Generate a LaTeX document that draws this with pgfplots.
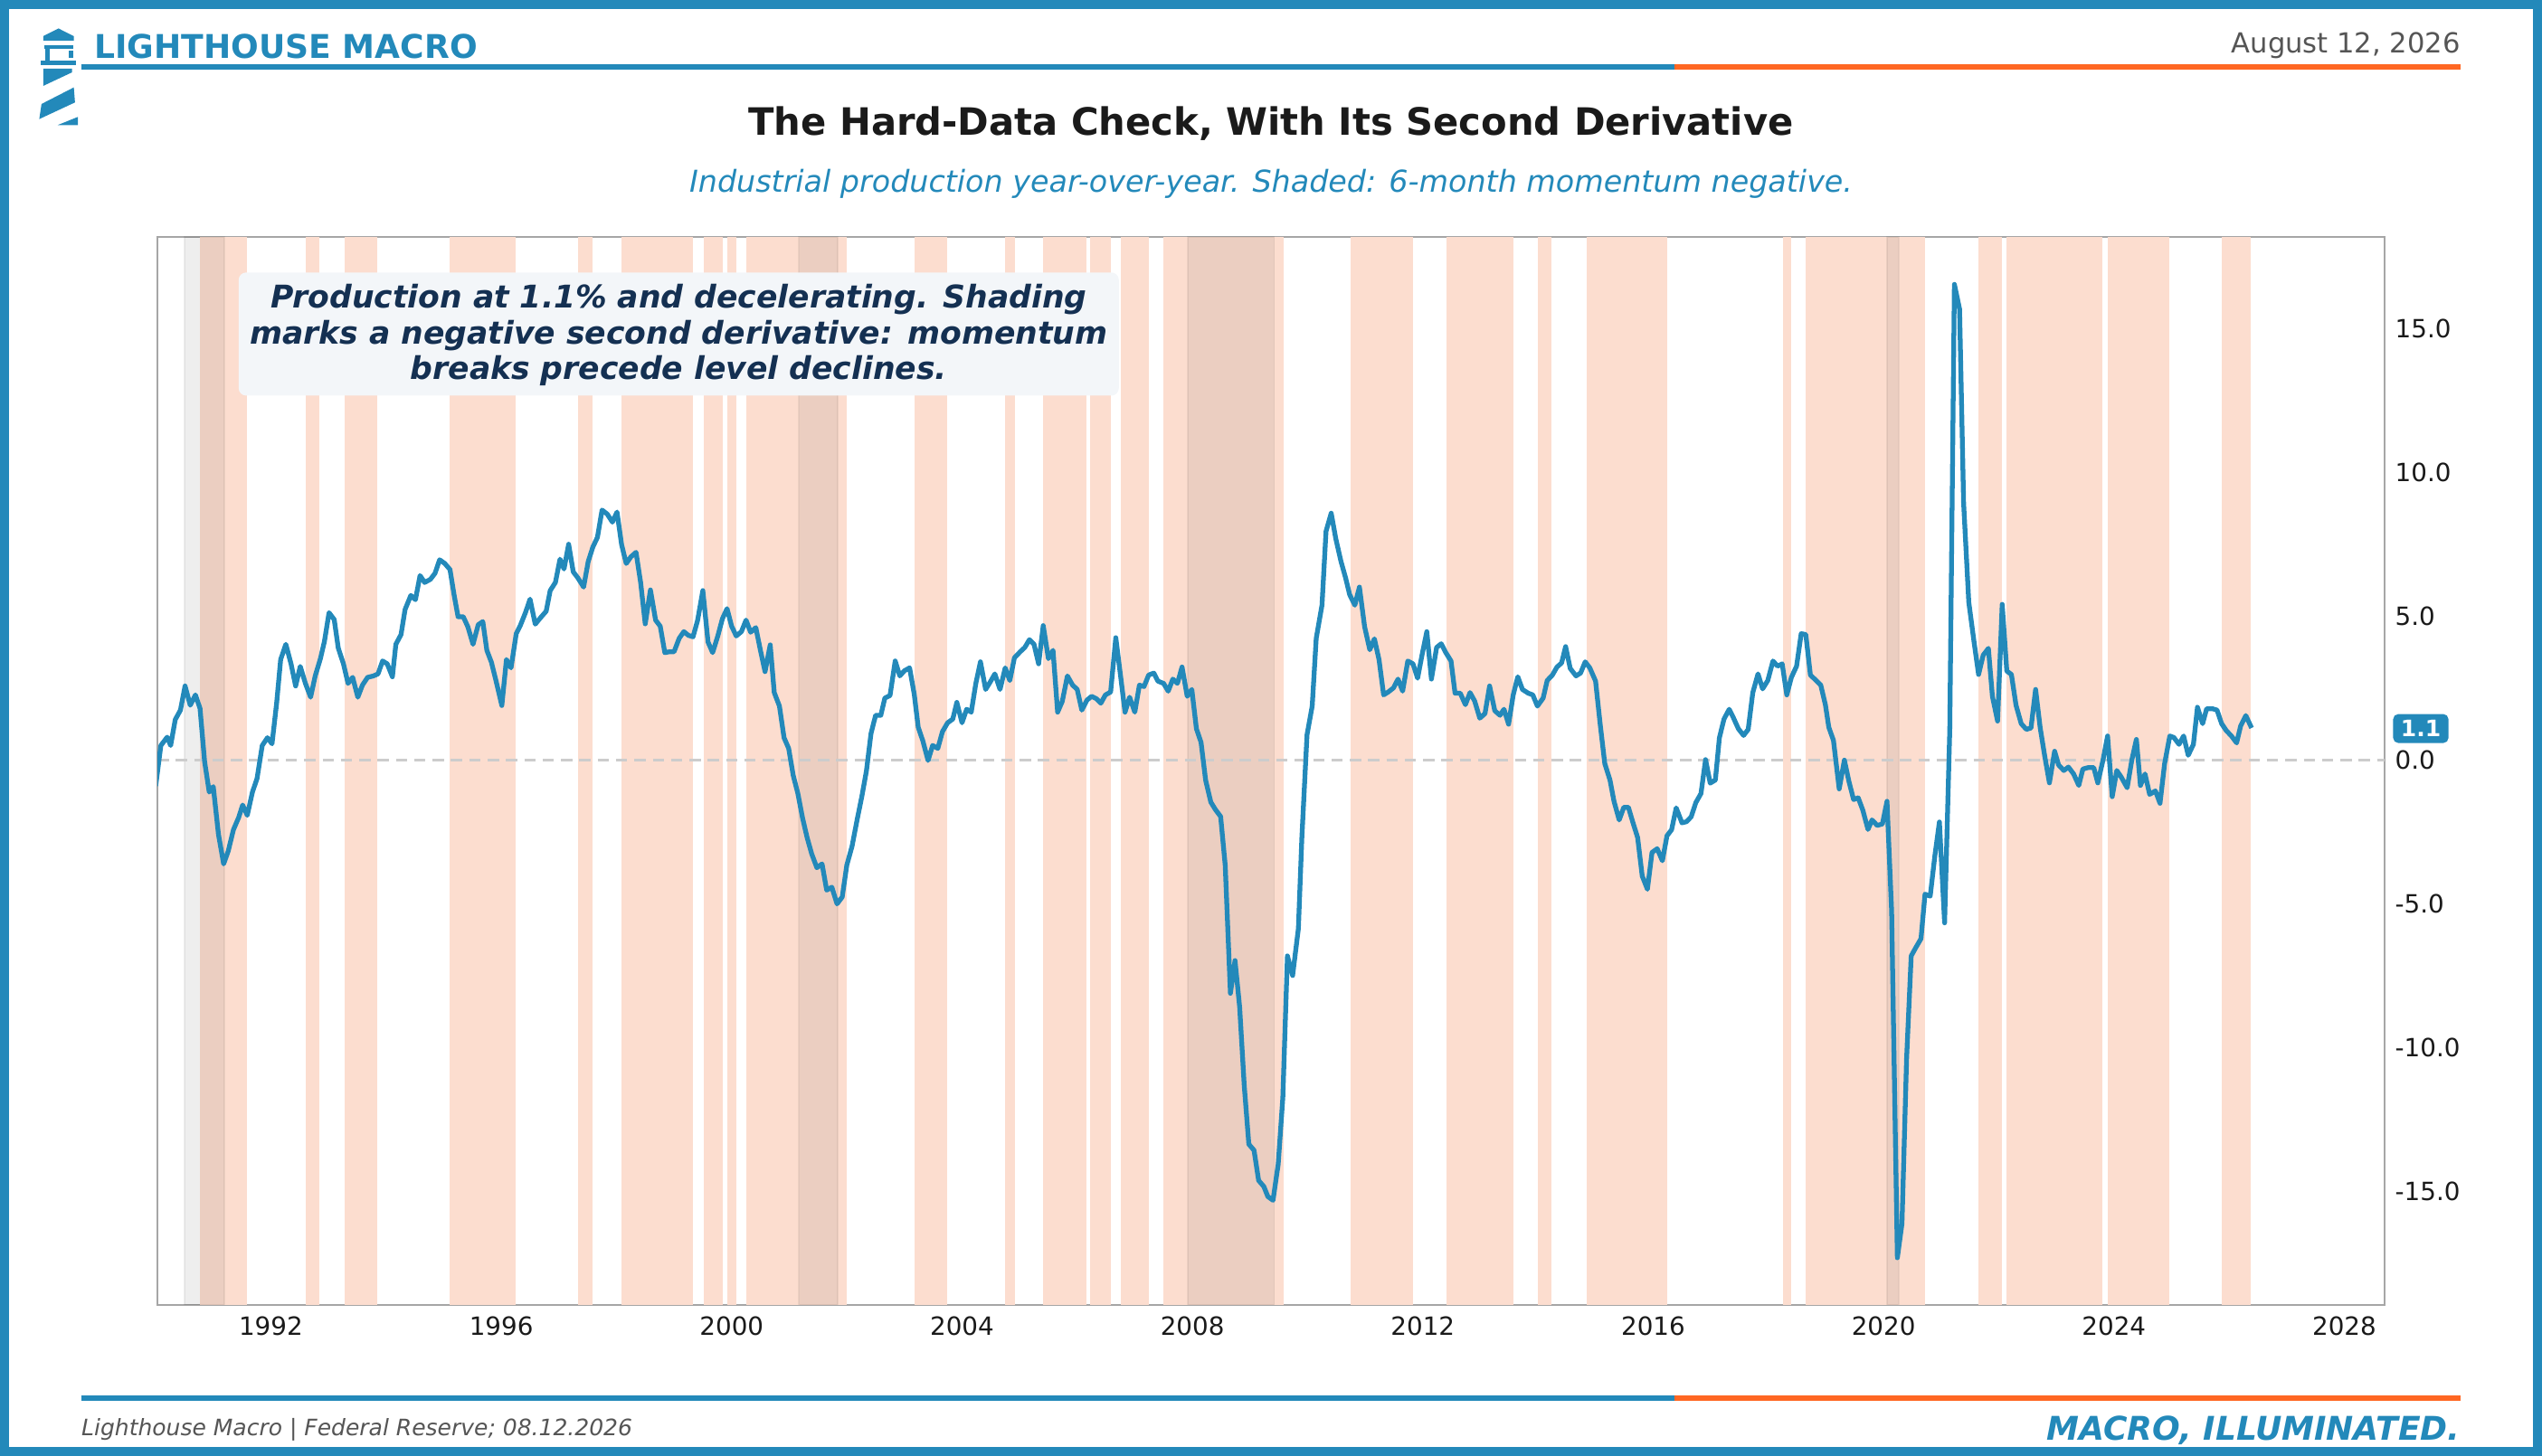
\documentclass[border=0pt]{standalone}
\usepackage{fontspec}
\setmainfont{DejaVu Sans}
\usepackage{pgfplots}
\pgfplotsset{compat=1.18}
\definecolor{lmblue}{RGB}{35,137,186}
\definecolor{lmorange}{RGB}{255,103,35}
\definecolor{peach}{RGB}{252,221,207}
\definecolor{navy}{RGB}{20,48,82}
\definecolor{boxfill}{RGB}{243,246,249}
\definecolor{titlec}{RGB}{26,26,26}
\definecolor{grayt}{RGB}{85,85,85}
\newcommand{\band}[2]{\addplot[draw=none,fill=peach,forget plot] coordinates {(#1,-18.95) (#1,18.2) (#2,18.2) (#2,-18.95)};}
\newcommand{\rec}[2]{\addplot[draw=black,draw opacity=0.06,line width=0.6pt,fill=black,fill opacity=0.067,forget plot] coordinates {(#1,-18.95) (#1,18.2) (#2,18.2) (#2,-18.95) (#1,-18.95)};}
\begin{document}
\begin{tikzpicture}
\useasboundingbox (0,0) rectangle (1011.6pt,579.6pt);
\begin{axis}[
 at={(62.64pt,60.12pt)}, anchor=south west,
 width=886.32pt, height=425.16pt, scale only axis,
 xmin=1990.03, xmax=2028.7, ymin=-18.95, ymax=18.2,
 axis line style={draw=black!35, line width=0.6pt},
 xtick={1992,1996,2000,2004,2008,2012,2016,2020,2024,2028},
 xticklabels={1992,1996,2000,2004,2008,2012,2016,2020,2024,2028},
 ytick={-15,-10,-5,0,5,10,15},
 yticklabels={-15.0,-10.0,-5.0,0.0,5.0,10.0,15.0},
 yticklabel pos=right,
 major tick length=0pt,
 tick style={draw=none},
 tick label style={font=\fontsize{10}{12}\selectfont, text=titlec, inner sep=0pt},
 xticklabel style={anchor=north, yshift=-4.3pt},
 yticklabel style={anchor=west, xshift=4pt},
]
\band{1990.77}{1991.59}
\band{1992.60}{1992.84}
\band{1993.28}{1993.85}
\band{1995.10}{1996.25}
\band{1997.34}{1997.59}
\band{1998.09}{1999.33}
\band{1999.51}{1999.84}
\band{1999.93}{2000.08}
\band{2000.25}{2002.00}
\band{2003.17}{2003.74}
\band{2004.75}{2004.92}
\band{2005.41}{2006.16}
\band{2006.23}{2006.58}
\band{2006.75}{2007.24}
\band{2007.50}{2009.58}
\band{2010.75}{2011.83}
\band{2012.41}{2013.57}
\band{2014.00}{2014.24}
\band{2014.84}{2016.24}
\band{2018.25}{2018.39}
\band{2018.65}{2020.72}
\band{2021.65}{2022.06}
\band{2022.14}{2023.80}
\band{2023.89}{2024.96}
\band{2025.87}{2026.37}
\rec{1990.50}{1991.19}
\rec{2001.17}{2001.84}
\rec{2007.92}{2009.42}
\rec{2020.06}{2020.26}
\addplot[draw=black!20, line width=1pt, dash pattern=on 4.5pt off 2.8pt, forget plot] coordinates {(1990.03,0) (2028.7,0)};
\addplot[lmblue, line width=1.9pt, line join=round] coordinates {
(1990.00,-0.9) (1990.09,0.51) (1990.20,0.80) (1990.26,0.51) (1990.34,1.41) (1990.43,1.74) (1990.51,2.58) (1990.60,1.91) (1990.69,2.27) (1990.77,1.80) (1990.85,-0.06) (1990.93,-1.11)
(1991.00,-0.92) (1991.09,-2.58) (1991.18,-3.61) (1991.26,-3.16) (1991.35,-2.42) (1991.44,-2.00) (1991.51,-1.56) (1991.59,-1.92) (1991.68,-1.11) (1991.76,-0.64) (1991.85,0.51) (1991.94,0.78)
(1992.02,0.57) (1992.10,1.98) (1992.17,3.50) (1992.26,4.03) (1992.35,3.35) (1992.43,2.58) (1992.51,3.26) (1992.60,2.67) (1992.69,2.19) (1992.77,2.93) (1992.86,3.53) (1992.93,4.13)
(1993.01,5.13) (1993.10,4.89) (1993.17,3.90) (1993.26,3.35) (1993.34,2.67) (1993.42,2.88) (1993.51,2.19) (1993.59,2.61) (1993.68,2.88) (1993.78,2.93) (1993.86,3.00) (1993.94,3.45)
(1994.02,3.35) (1994.11,2.90) (1994.17,4.03) (1994.26,4.37) (1994.33,5.24) (1994.43,5.73) (1994.51,5.58) (1994.59,6.42) (1994.67,6.18) (1994.77,6.29) (1994.85,6.50) (1994.93,6.97)
(1995.02,6.84) (1995.11,6.63) (1995.18,5.76) (1995.25,4.99) (1995.34,4.99) (1995.42,4.64) (1995.51,4.03) (1995.60,4.71) (1995.68,4.82) (1995.75,3.82) (1995.83,3.40) (1995.92,2.67)
(1996.01,1.90) (1996.09,3.50) (1996.17,3.21) (1996.26,4.40) (1996.33,4.68) (1996.42,5.13) (1996.50,5.60) (1996.59,4.73) (1996.68,4.95) (1996.78,5.18) (1996.85,5.90) (1996.94,6.18)
(1997.02,6.99) (1997.09,6.65) (1997.17,7.51) (1997.25,6.55) (1997.33,6.34) (1997.43,6.02) (1997.51,6.91) (1997.59,7.41) (1997.67,7.75) (1997.75,8.70) (1997.84,8.56) (1997.93,8.28)
(1998.01,8.63) (1998.09,7.49) (1998.17,6.84) (1998.25,7.07) (1998.34,7.23) (1998.42,6.18) (1998.50,4.74) (1998.59,5.92) (1998.68,4.87) (1998.76,4.66) (1998.84,3.74) (1998.92,3.77)
(1999.00,3.77) (1999.09,4.24) (1999.17,4.47) (1999.25,4.34) (1999.33,4.29) (1999.41,4.87) (1999.50,5.90) (1999.59,4.11) (1999.67,3.74) (1999.76,4.32) (1999.84,4.92) (1999.92,5.27)
(2000.00,4.66) (2000.08,4.32) (2000.17,4.47) (2000.25,4.87) (2000.33,4.45) (2000.42,4.61) (2000.50,3.82) (2000.58,3.08) (2000.67,4.01) (2000.74,2.35) (2000.83,1.88) (2000.91,0.78)
(2000.99,0.41) (2001.07,-0.54) (2001.15,-1.16) (2001.23,-2.00) (2001.31,-2.69) (2001.39,-3.26) (2001.48,-3.74) (2001.57,-3.61) (2001.65,-4.52) (2001.74,-4.42) (2001.83,-5.00) (2001.92,-4.76)
(2002.00,-3.65) (2002.09,-3.00) (2002.18,-2.06) (2002.26,-1.27) (2002.34,-0.38) (2002.42,0.93) (2002.50,1.56) (2002.59,1.56) (2002.66,2.16) (2002.75,2.25) (2002.84,3.45) (2002.92,2.93)
(2003.00,3.11) (2003.09,3.21) (2003.17,2.30) (2003.24,1.14) (2003.32,0.67) (2003.41,-0.01) (2003.49,0.51) (2003.58,0.41) (2003.66,0.99) (2003.75,1.30) (2003.84,1.43) (2003.91,2.01)
(2004.00,1.30) (2004.08,1.77) (2004.16,1.67) (2004.24,2.67) (2004.32,3.42) (2004.41,2.46) (2004.49,2.72) (2004.57,3.00) (2004.66,2.46) (2004.75,3.21) (2004.83,2.77) (2004.91,3.56)
(2005.01,3.77) (2005.09,3.92) (2005.17,4.19) (2005.25,4.03) (2005.33,3.35) (2005.41,4.68) (2005.50,3.53) (2005.58,3.82) (2005.66,1.67) (2005.74,2.04) (2005.83,2.93) (2005.92,2.61)
(2006.00,2.46) (2006.08,1.74) (2006.17,2.09) (2006.25,2.22) (2006.33,2.14) (2006.41,1.98) (2006.49,2.27) (2006.58,2.37) (2006.67,4.26) (2006.75,2.98) (2006.83,1.67) (2006.91,2.19)
(2007.00,1.67) (2007.08,2.61) (2007.16,2.56) (2007.24,2.96) (2007.33,3.03) (2007.40,2.75) (2007.50,2.67) (2007.58,2.40) (2007.66,2.82) (2007.74,2.67) (2007.82,3.24) (2007.91,2.22)
(2007.99,2.46) (2008.07,1.09) (2008.15,0.62) (2008.23,-0.70) (2008.32,-1.46) (2008.40,-1.72) (2008.49,-1.96) (2008.57,-3.66) (2008.66,-8.11) (2008.74,-6.97) (2008.82,-8.58) (2008.90,-11.32)
(2008.98,-13.36) (2009.07,-13.57) (2009.15,-14.62) (2009.24,-14.83) (2009.31,-15.18) (2009.40,-15.31) (2009.49,-14.05) (2009.57,-11.74) (2009.65,-6.81) (2009.74,-7.49) (2009.84,-5.86) (2009.90,-2.72)
(2009.99,0.88) (2010.08,1.88) (2010.15,4.24) (2010.25,5.39) (2010.32,7.96) (2010.41,8.59) (2010.49,7.70) (2010.58,6.91) (2010.66,6.34) (2010.73,5.76) (2010.82,5.39) (2010.90,6.02)
(2010.99,4.64) (2011.08,3.84) (2011.16,4.22) (2011.24,3.50) (2011.32,2.27) (2011.40,2.37) (2011.49,2.51) (2011.57,2.82) (2011.65,2.40) (2011.74,3.45) (2011.83,3.35) (2011.91,2.85)
(2011.99,3.69) (2012.07,4.47) (2012.15,2.82) (2012.24,3.92) (2012.32,4.05) (2012.40,3.74) (2012.49,3.45) (2012.56,2.33) (2012.65,2.33) (2012.74,1.93) (2012.82,2.35) (2012.90,2.06)
(2012.99,1.46) (2013.08,1.62) (2013.16,2.58) (2013.25,1.72) (2013.34,1.56) (2013.41,1.77) (2013.49,1.25) (2013.57,2.27) (2013.65,2.90) (2013.73,2.46) (2013.83,2.33) (2013.91,2.27)
(2013.99,1.88) (2014.09,2.16) (2014.16,2.77) (2014.25,2.96) (2014.33,3.24) (2014.41,3.38) (2014.48,3.95) (2014.56,3.19) (2014.66,2.93) (2014.74,3.03) (2014.82,3.42) (2014.90,3.21)
(2015.00,2.75) (2015.08,1.25) (2015.16,-0.12) (2015.25,-0.69) (2015.32,-1.43) (2015.41,-2.08) (2015.49,-1.64) (2015.57,-1.64) (2015.65,-2.18) (2015.73,-2.69) (2015.81,-4.03) (2015.90,-4.49)
(2015.98,-3.21) (2016.07,-3.08) (2016.16,-3.50) (2016.24,-2.63) (2016.32,-2.42) (2016.40,-1.66) (2016.50,-2.18) (2016.58,-2.14) (2016.66,-1.97) (2016.74,-1.48) (2016.83,-1.16) (2016.91,0.02)
(2016.99,-0.80) (2017.08,-0.69) (2017.15,0.78) (2017.23,1.43) (2017.32,1.77) (2017.39,1.49) (2017.48,1.09) (2017.57,0.86) (2017.65,1.07) (2017.73,2.35) (2017.82,3.00) (2017.90,2.48)
(2017.99,2.77) (2018.08,3.45) (2018.16,3.27) (2018.24,3.35) (2018.32,2.27) (2018.40,2.88) (2018.49,3.27) (2018.57,4.40) (2018.65,4.37) (2018.73,2.96) (2018.83,2.77) (2018.91,2.61)
(2018.99,1.93) (2019.05,1.14) (2019.13,0.69) (2019.23,-1.00) (2019.32,0.00) (2019.40,-0.75) (2019.48,-1.37) (2019.56,-1.31) (2019.64,-1.74) (2019.73,-2.41) (2019.80,-2.08) (2019.89,-2.27)
(2019.98,-2.22) (2020.06,-1.43) (2020.14,-5.25) (2020.24,-17.31) (2020.32,-16.12) (2020.40,-10.39) (2020.48,-6.81) (2020.56,-6.52) (2020.65,-6.21) (2020.72,-4.66) (2020.81,-4.73) (2020.89,-3.34)
(2020.97,-2.15) (2021.06,-5.66) (2021.15,1.07) (2021.23,16.55) (2021.32,15.69) (2021.39,8.95) (2021.48,5.49) (2021.57,4.13) (2021.65,2.98) (2021.73,3.65) (2021.82,3.89) (2021.89,2.22)
(2021.98,1.36) (2022.06,5.42) (2022.14,3.10) (2022.22,2.98) (2022.30,1.91) (2022.39,1.27) (2022.48,1.07) (2022.56,1.12) (2022.64,2.46) (2022.72,1.12) (2022.80,0.12) (2022.88,-0.79)
(2022.97,0.31) (2023.04,-0.17) (2023.13,-0.36) (2023.21,-0.24) (2023.30,-0.48) (2023.39,-0.88) (2023.46,-0.31) (2023.55,-0.26) (2023.65,-0.26) (2023.72,-0.79) (2023.81,0.00) (2023.89,0.84)
(2023.97,-1.27) (2024.05,-0.36) (2024.13,-0.60) (2024.23,-0.96) (2024.31,0.00) (2024.39,0.72) (2024.46,-0.88) (2024.54,-0.48) (2024.62,-1.19) (2024.72,-1.07) (2024.80,-1.50) (2024.88,-0.12)
(2024.97,0.84) (2025.04,0.79) (2025.13,0.55) (2025.21,0.84) (2025.29,0.17) (2025.38,0.55) (2025.45,1.84) (2025.54,1.27) (2025.61,1.79) (2025.71,1.79) (2025.79,1.74) (2025.87,1.27)
(2025.95,1.03) (2026.04,0.84) (2026.13,0.60) (2026.20,1.19) (2026.29,1.55) (2026.39,1.12)
};
\coordinate (badgept) at (axis cs:2028.7,1.1);
\end{axis}
\node[fill=lmblue, rounded corners=2pt, text=white, font=\bfseries\fontsize{9}{10}\selectfont, minimum width=22pt, minimum height=11.5pt, inner sep=0pt, anchor=west] at ([xshift=3.2pt]badgept) {1.1};
\begin{scope}[x=0.36pt, y=-0.36pt, shift={(0pt,579.6pt)}]
\draw[lmblue, line width=3.6pt] (5,5) rectangle (2805,1605);
% lighthouse icon
\fill[lmblue] (47.8,45) -- (47.8,40) -- (64.7,31.5) -- (81.6,40) -- (81.6,45) -- cycle;
\fill[lmblue] (49,50) rectangle (81,54);
\fill[lmblue] (50,54) rectangle (54.5,68);
\fill[lmblue] (76,56) rectangle (80.5,64);
\fill[lmblue] (45,67) rectangle (84,72);
\fill[lmblue] (47.8,76) -- (79.7,76) -- (79.7,80) -- (47.8,95) -- cycle;
\fill[lmblue] (81.6,96.7) -- (82.9,113.3) -- (43.4,131.7) -- (45.9,115) -- cycle;
\fill[lmblue] (86.1,129.3) -- (86.1,138.3) -- (63.8,138.3) -- cycle;
% rules
\draw[lmblue, line width=2pt] (89.6,73.8) -- (1851,73.8);
\draw[lmorange, line width=2pt] (1851,73.8) -- (2720,73.8);
\draw[lmblue, line width=2pt] (89.6,1546) -- (1851,1546);
\draw[lmorange, line width=2pt] (1851,1546) -- (2720,1546);
% texts
\node[anchor=base west, inner sep=0pt, text=lmblue, font=\bfseries\fontsize{13}{15}\selectfont] at (104,64.3) {LIGHTHOUSE MACRO};
\node[anchor=base east, inner sep=0pt, text=grayt, font=\fontsize{11}{13}\selectfont] at (2720,59) {August 12, 2026};
\node[anchor=base, inner sep=0pt, text=titlec, font=\bfseries\fontsize{15}{18}\selectfont] at (1405,150) {The Hard-Data Check, With Its Second Derivative};
\node[anchor=base, inner sep=0pt, text=lmblue, font=\itshape\fontsize{12}{14}\selectfont] at (1405,213) {Industrial production year-over-year. Shaded: 6-month momentum negative.};
\node[anchor=base west, inner sep=0pt, text=grayt, font=\itshape\fontsize{9}{11}\selectfont] at (89.6,1588) {Lighthouse Macro | Federal Reserve; 08.12.2026};
\node[anchor=base east, inner sep=0pt, text=lmblue, font=\bfseries\itshape\fontsize{13}{15}\selectfont] at (2720,1592.7) {MACRO, ILLUMINATED.};
% annotation box
\fill[boxfill, rounded corners=3pt] (263.8,301.3) rectangle (1236.8,437.5);
\node[align=center, inner sep=0pt, text=navy, font=\bfseries\itshape\fontsize{12.45}{14.2}\selectfont] at (750.3,370.5) {Production at 1.1\% and decelerating. Shading\\marks a negative second derivative: momentum\\breaks precede level declines.};
\end{scope}
\end{tikzpicture}
\end{document}
